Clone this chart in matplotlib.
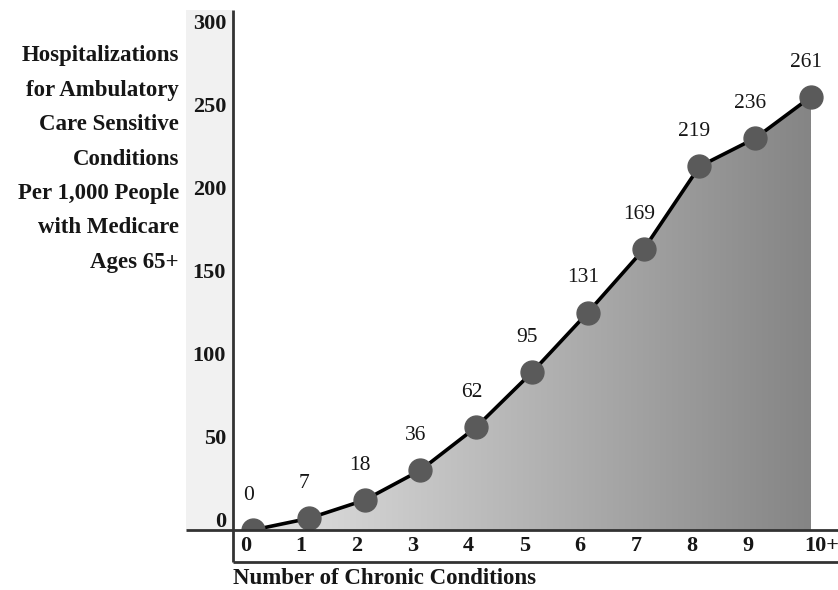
import numpy as np
import matplotlib
matplotlib.use("Agg")
import matplotlib.pyplot as plt
from matplotlib.colors import LinearSegmentedColormap
from matplotlib.patches import Polygon, Rectangle
from matplotlib.transforms import offset_copy

# Hospitalizations per 1,000 people by number of chronic conditions
conditions = [0, 1, 2, 3, 4, 5, 6, 7, 8, 9, 10]
x_labels = ["0", "1", "2", "3", "4", "5", "6", "7", "8", "9", "10+"]
rates = [0, 7, 18, 36, 62, 95, 131, 169, 219, 236, 261]
y_ticks = [0, 50, 100, 150, 200, 250, 300]

y_title = ("Hospitalizations\nfor Ambulatory\nCare Sensitive\nConditions\n"
           "Per 1,000 People\nwith Medicare\nAges 65+")
x_title = "Number of Chronic Conditions"

SERIF = ["Liberation Serif", "DejaVu Serif"]
LINE_C = "#333333"
TEXT_C = "#161616"

fig = plt.figure(figsize=(8.38, 5.90), dpi=100)
ax = fig.add_axes([186 / 838, 28 / 590, 652 / 838, 552 / 590])
ax.set_axis_off()

# data window (x: 55.8 px per condition, y: 1.66 px per unit)
px_x, px_y = 55.8, 1.66
x0 = -(253 - 186) / px_x
x1 = (838 - 253) / px_x
y0 = -(562 - 530) / px_y
y1 = (530 - 10) / px_y
ax.set_xlim(x0, x1)
ax.set_ylim(y0, y1)
xv = -(253 - 233) / px_x  # vertical axis line position

# light band behind the y tick labels
ax.add_patch(Rectangle((x0, 0), xv - x0, y1, facecolor="#f1f1f1",
                       edgecolor="none", zorder=0))

# gradient-filled area under the curve
cmap = LinearSegmentedColormap.from_list("fillgrey", ["#e2e2e2", "#858585"])
grad = np.linspace(0, 1, 256).reshape(1, -1)
img = ax.imshow(grad, cmap=cmap, aspect="auto", interpolation="bilinear",
                extent=[conditions[0], conditions[-1], 0, max(rates)],
                origin="lower", zorder=1)
verts = [(conditions[0], 0)] + list(zip(conditions, rates)) + [(conditions[-1], 0)]
poly = Polygon(verts, closed=True, facecolor="none", edgecolor="none",
               transform=ax.transData)
ax.add_patch(poly)
img.set_clip_path(poly)

# line and markers
ax.plot(conditions, rates, color="black", lw=2.6, zorder=3,
        solid_capstyle="round")
ax.plot(conditions, rates, ls="none", marker="o", ms=16.5,
        mfc="#5a5a5a", mec="#5a5a5a", zorder=4)

# white box holding the x tick labels (covers marker parts below zero)
ax.add_patch(Rectangle((xv, y0), x1 - xv, -y0, facecolor="white",
                       edgecolor="none", zorder=5))

# frame lines
ax.plot([x0, x1], [0, 0], color=LINE_C, lw=2.0, zorder=6, solid_capstyle="butt")
ax.plot([xv, x1], [y0, y0], color=LINE_C, lw=2.0, zorder=6, solid_capstyle="butt",
        clip_on=False)
ax.plot([xv, xv], [y0, y1], color=LINE_C, lw=2.0, zorder=6, solid_capstyle="butt",
        clip_on=False)

# value labels
for xc, v in zip(conditions, rates):
    ax.annotate(str(v), (xc, v), xytext=(-3.5, 25), textcoords="offset points",
                ha="center", va="center", fontsize=15.5, family=SERIF,
                color=TEXT_C, zorder=7)

# y tick labels
ytr = offset_copy(ax.transData, fig=fig, x=0, y=6, units="points")
for t in y_ticks:
    ax.text(-(253 - 226) / px_x, t, str(t), transform=ytr, ha="right",
            va="center", fontsize=16, fontweight="bold", family=SERIF,
            color=TEXT_C, zorder=7)

# x tick labels
y_mid = y0 / 2
for xc, lab in zip(conditions, x_labels):
    if lab.endswith("+"):
        tr = offset_copy(ax.transData, fig=fig, x=-4.5, y=0, units="points")
        ha = "left"
    else:
        tr = offset_copy(ax.transData, fig=fig, x=-5.5, y=0, units="points")
        ha = "center"
    ax.text(xc, y_mid, lab, transform=tr, ha=ha, va="center", fontsize=16,
            fontweight="bold", family=SERIF, color=TEXT_C, zorder=7,
            clip_on=False)

# axis titles
fig.text(179 / 838, 1 - 159 / 590, y_title, ha="right", va="center",
         multialignment="right", fontsize=16.5, fontweight="bold", family=SERIF,
         color=TEXT_C, linespacing=1.84)
fig.text(233 / 838, 1 - 578 / 590, x_title, ha="left", va="center",
         fontsize=16.5, fontweight="bold", family=SERIF, color=TEXT_C)

fig.savefig("out.png", dpi=100)
